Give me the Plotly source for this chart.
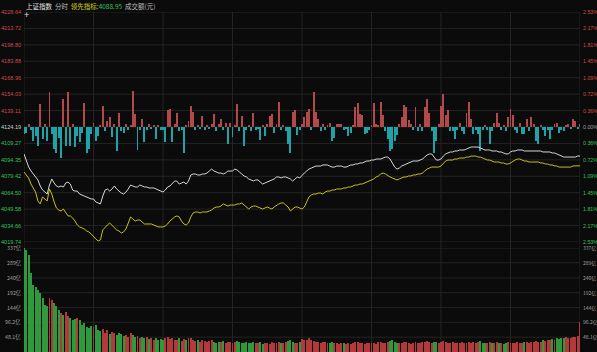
import plotly.graph_objects as go

# ---------------- data ----------------
prev_close = 4124.19
lead_value_text = "4088.95"

price = [
    4099.7, 4094.2, 4087.9, 4084.3, 4081.5, 4078.8, 4076.1, 4070.6, 4067.0, 4065.2,
    4063.3, 4071.5, 4077.0, 4073.3, 4070.6, 4069.7, 4070.6, 4069.7, 4073.3, 4074.2,
    4072.4, 4066.9, 4066.0, 4066.0, 4063.3, 4062.4, 4061.5, 4060.6, 4059.7, 4058.8,
    4058.8, 4056.1, 4055.2, 4054.3, 4061.5, 4066.9, 4067.9, 4066.0, 4067.9, 4070.6,
    4067.9, 4066.0, 4064.2, 4063.3, 4065.1, 4067.9, 4071.5, 4070.6, 4069.7, 4069.7,
    4071.5, 4070.6, 4069.7, 4069.7, 4068.8, 4068.8, 4068.8, 4067.9, 4067.0, 4066.0,
    4065.1, 4067.0, 4069.7, 4070.6, 4073.3, 4075.1, 4075.1, 4072.4, 4073.3, 4074.2,
    4072.4, 4075.1, 4080.6, 4081.5, 4081.5, 4080.6, 4080.6, 4081.5, 4081.5, 4082.4,
    4084.2, 4086.0, 4084.2, 4083.3, 4082.4, 4082.4, 4081.5, 4082.4, 4084.2, 4084.2,
    4084.2, 4086.0, 4085.1, 4083.3, 4081.5, 4079.7, 4078.8, 4077.0, 4076.1, 4075.2,
    4076.1, 4076.1, 4074.2, 4072.4, 4073.3, 4074.2, 4075.1, 4076.1, 4077.0, 4078.8,
    4078.8, 4077.9, 4078.8, 4078.8, 4077.9, 4077.0, 4075.1, 4077.0, 4078.8, 4077.9,
    4080.6, 4082.4, 4084.2, 4086.0, 4086.9, 4087.8, 4088.7, 4088.7, 4088.7, 4089.7,
    4089.7, 4089.7, 4088.7, 4087.8, 4087.8, 4088.7, 4088.7, 4088.7, 4087.8, 4087.8,
    4088.7, 4089.7, 4089.7, 4090.6, 4090.6, 4091.5, 4091.5, 4092.4, 4093.3, 4093.3,
    4094.2, 4094.2, 4095.1, 4095.1, 4095.1, 4096.0, 4096.9, 4096.9, 4095.1, 4091.5,
    4087.8, 4086.0, 4086.9, 4088.7, 4089.7, 4090.6, 4091.5, 4092.4, 4093.3, 4093.3,
    4093.3, 4094.2, 4095.1, 4096.9, 4098.8, 4099.7, 4099.7, 4096.9, 4094.2, 4094.2,
    4095.1, 4097.8, 4099.7, 4100.6, 4101.5, 4101.5, 4102.4, 4102.4, 4103.3, 4103.3,
    4103.3, 4104.2, 4105.1, 4106.0, 4106.0, 4106.0, 4106.0, 4105.1, 4104.2, 4103.3,
    4103.3, 4103.3, 4102.4, 4102.4, 4102.4, 4101.5, 4101.5, 4100.6, 4099.7, 4099.7,
    4101.5, 4102.4, 4102.4, 4103.3, 4103.3, 4103.3, 4102.4, 4102.4, 4102.4, 4102.4,
    4102.4, 4102.4, 4102.4, 4102.4, 4101.5, 4101.5, 4101.5, 4101.5, 4100.6, 4100.6,
    4099.7, 4098.8, 4097.8, 4096.9, 4096.9, 4096.9, 4096.9, 4096.9, 4096.9, 4097.8,
    4097.8,
]

lead = [
    4083.3, 4080.6, 4077.9, 4072.4, 4068.8, 4065.1, 4057.0, 4054.3, 4060.6, 4058.8,
    4057.0, 4067.9, 4063.3, 4056.1, 4050.6, 4048.8, 4047.9, 4049.7, 4047.0, 4043.4,
    4043.4, 4041.6, 4038.8, 4035.2, 4033.4, 4032.5, 4031.6, 4029.8, 4028.9, 4027.0,
    4024.3, 4022.5, 4020.7, 4021.6, 4030.7, 4033.4, 4035.2, 4037.0, 4035.2, 4032.5,
    4030.7, 4029.8, 4027.9, 4028.9, 4031.6, 4037.0, 4042.5, 4040.7, 4038.8, 4039.7,
    4039.7, 4037.9, 4036.1, 4036.1, 4036.1, 4036.1, 4035.2, 4034.3, 4033.4, 4033.4,
    4033.4, 4034.3, 4036.1, 4038.8, 4040.7, 4042.5, 4043.4, 4042.5, 4038.8, 4036.1,
    4035.2, 4037.0, 4042.5, 4046.1, 4047.0, 4047.0, 4046.1, 4047.0, 4047.0, 4047.0,
    4047.9, 4048.8, 4050.6, 4051.5, 4051.5, 4052.4, 4054.3, 4053.3, 4052.4, 4053.3,
    4053.3, 4053.3, 4054.3, 4054.3, 4055.2, 4053.3, 4051.5, 4049.7, 4051.5, 4052.4,
    4052.4, 4051.5, 4050.6, 4049.7, 4050.6, 4051.5, 4050.6, 4049.7, 4051.5, 4053.3,
    4054.3, 4055.2, 4055.2, 4053.3, 4051.5, 4047.9, 4049.7, 4051.5, 4051.5, 4050.6,
    4049.7, 4051.5, 4056.1, 4060.6, 4062.4, 4063.3, 4063.3, 4064.2, 4064.2, 4063.3,
    4065.1, 4066.0, 4066.0, 4067.0, 4067.0, 4067.9, 4067.9, 4067.9, 4068.8, 4068.8,
    4069.7, 4069.7, 4070.6, 4071.5, 4071.5, 4072.4, 4072.4, 4073.3, 4074.2, 4075.1,
    4076.1, 4077.0, 4078.8, 4079.7, 4081.5, 4082.4, 4081.5, 4079.7, 4078.8, 4077.9,
    4077.0, 4076.1, 4077.0, 4077.9, 4078.8, 4078.8, 4079.7, 4079.7, 4080.6, 4080.6,
    4081.5, 4081.5, 4082.4, 4084.2, 4086.0, 4086.9, 4087.8, 4087.8, 4087.8, 4087.8,
    4088.8, 4091.5, 4093.3, 4094.2, 4094.2, 4094.2, 4095.1, 4095.1, 4096.0, 4096.0,
    4096.0, 4096.9, 4096.9, 4097.8, 4097.8, 4097.8, 4096.9, 4096.9, 4096.0, 4095.1,
    4094.2, 4094.2, 4093.3, 4092.4, 4092.4, 4092.4, 4091.5, 4091.5, 4090.6, 4090.6,
    4091.5, 4093.3, 4094.2, 4095.1, 4095.1, 4094.2, 4093.3, 4093.3, 4092.4, 4092.4,
    4092.4, 4092.4, 4092.4, 4091.5, 4091.5, 4090.6, 4090.6, 4089.7, 4089.7, 4088.8,
    4088.8, 4087.8, 4087.8, 4087.8, 4087.8, 4087.8, 4087.8, 4088.8, 4088.8, 4088.95,
    4088.95,
]

strength = [
    -6, -5, 3, -3, -13, -8, -17, 21, -11, 3,
    -13, 32, -6, -20, -24, -10, -28, 25, -17, 32,
    -17, 3, -18, -8, -14, -5, 22, -24, -20, -6,
    4, -13, -8, 2, 19, -4, 5, 9, -9, 3,
    -22, 13, -4, -5, 3, -3, 2, 33, 12, -21,
    -3, 7, -14, -3, 3, -2, 2, -11, 2, -3,
    -3, -14, 15, 16, -14, 3, 13, -4, -3, -24,
    2, 5, 19, 14, -3, 2, -2, 10, -3, 2,
    -2, 3, 12, -4, 3, 7, -3, 4, -15, 4,
    -9, 2, 21, -4, 10, -17, -3, 2, -4, 13,
    -3, -2, -12, 2, -8, 3, 10, 12, -5, 3,
    23, -3, 2, -4, -15, -24, 14, 15, -7, -3,
    3, 9, 14, 16, -3, 32, 14, 7, -4, 3,
    -3, 2, 4, -13, -10, 3, 3, 3, -3, -2,
    -8, -5, 2, 18, 22, 12, 11, -6, -5, -3,
    2, 22, 3, 2, 23, 11, -4, -11, -22, -20,
    -13, -7, 3, 9, 20, 18, 6, 3, -3, 18,
    -4, 3, -4, 18, 25, 13, -4, -24, -13, 3,
    19, 30, 11, 15, -4, -4, -11, -3, 4, -4,
    -6, 13, 23, 7, -6, -3, -6, -22, -3, 2,
    -3, -15, -4, 4, 13, 4, -3, 2, -4, 9,
    16, 11, -3, -5, 4, -6, -6, 7, -4, 9,
    3, -13, -15, 2, -3, -8, -3, -11, -3, 3,
    4, -5, -3, -4, 2, 3, -2, 7, 5, -2,
    3,
]

volume = [
    337, 330, 314, 256, 217, 211, 201, 191, 175, 152,
    150, 175, 168, 159, 150, 136, 128, 120, 130, 118,
    110, 104, 108, 110, 104, 88, 95, 81, 78, 84,
    80, 86, 72, 68, 75, 62, 70, 58, 64, 60,
    55, 62, 58, 52, 56, 50, 60, 54, 48, 52,
    46, 50, 44, 48, 42, 46, 40, 44, 38, 42,
    40, 44, 48, 42, 46, 38, 40, 44, 36, 42,
    38, 46, 44, 40, 36, 38, 34, 40, 36, 32,
    36, 38, 34, 30, 34, 32, 36, 30, 34, 32,
    30, 34, 36, 32, 30, 28, 32, 30, 28, 34,
    30, 28, 32, 26, 30, 28, 26, 32, 30, 28,
    34, 30, 28, 32, 36, 40, 34, 30, 28, 32,
    42, 38, 40, 44, 38, 36, 34, 32, 30, 34,
    32, 30, 28, 32, 30, 28, 26, 30, 28, 26,
    28, 26, 30, 32, 34, 30, 28, 26, 28, 30,
    28, 30, 26, 32, 34, 30, 28, 32, 36, 38,
    34, 30, 28, 30, 34, 32, 28, 26, 30, 32,
    30, 28, 32, 34, 36, 32, 30, 34, 32, 30,
    34, 36, 32, 30, 28, 32, 30, 28, 30, 32,
    30, 28, 32, 30, 34, 28, 32, 36, 30, 28,
    30, 32, 28, 30, 32, 28, 30, 26, 30, 32,
    30, 28, 30, 32, 30, 28, 32, 34, 30, 32,
    34, 36, 32, 34, 38, 36, 40, 38, 42, 40,
    44, 42, 46, 44, 48, 46, 44, 50, 48, 52,
    97,
]

price_ticks = [4228.64, 4213.72, 4198.80, 4183.88, 4168.96, 4154.03, 4139.11, 4124.19,
               4109.27, 4094.35, 4079.42, 4064.50, 4049.58, 4034.66, 4019.74]
price_tick_text = ["4228.64", "4213.72", "4198.80", "4183.88", "4168.96", "4154.03", "4139.11",
                   "4124.19", "4109.27", "4094.35", "4079.42", "4064.50", "4049.58", "4034.66",
                   "4019.74"]
pct_tick_text = ["2.53%", "2.17%", "1.81%", "1.45%", "1.09%", "0.72%", "0.36%", "0.00%",
                 "0.36%", "0.72%", "1.09%", "1.45%", "1.81%", "2.17%", "2.53%"]
vol_ticks = [337, 289, 240, 192, 144, 96.2, 48.1]
vol_tick_text = ["337亿", "289亿", "240亿", "192亿", "144亿", "96.2亿", "48.1亿"]
time_grid = [0, 30, 60, 90, 120, 150, 180, 210, 240]

# ---------------- styling ----------------
BG = "#0b0b0b"
GRID = "#242424"
RED = "#d04a4a"
GREEN = "#33c25a"
GRAY = "#a0a0a0"
UP_BAR = "#b4494b"
DOWN_BAR = "#1ea3a8"
VOL_UP = "#b23a3a"
VOL_DOWN = "#2f9a3c"
NUM_FONT = "Liberation Sans"
CJK_FONT = "Noto Sans CJK SC"

minutes = list(range(len(price)))

fig = go.Figure()

fig.add_trace(go.Bar(
    x=minutes, y=strength, base=prev_close, width=0.42,
    marker=dict(color=[UP_BAR if v > 0 else DOWN_BAR for v in strength], line=dict(width=0)),
    xaxis="x", yaxis="y", hoverinfo="skip",
))
fig.add_trace(go.Scatter(
    x=minutes, y=price, mode="lines", line=dict(color="#d8d8d8", width=1),
    xaxis="x", yaxis="y", hoverinfo="skip",
))
fig.add_trace(go.Scatter(
    x=minutes, y=lead, mode="lines", line=dict(color="#c6c21c", width=1),
    xaxis="x", yaxis="y", hoverinfo="skip",
))

vol_colors = []
for i, p in enumerate(price):
    ref = prev_close if i == 0 else price[i - 1]
    vol_colors.append(VOL_UP if p >= ref else VOL_DOWN)
fig.add_trace(go.Bar(
    x=minutes, y=volume, width=0.42,
    marker=dict(color=vol_colors, line=dict(width=0)),
    xaxis="x", yaxis="y2", hoverinfo="skip",
))

shapes = []
for lvl in price_ticks:
    shapes.append(dict(type="line", xref="paper", yref="y", x0=0, x1=1, y0=lvl, y1=lvl,
                       line=dict(color=GRID, width=1), layer="below"))
for lvl in [0] + vol_ticks:
    shapes.append(dict(type="line", xref="paper", yref="y2", x0=0, x1=1, y0=lvl, y1=lvl,
                       line=dict(color=GRID, width=1), layer="below"))
for t in time_grid:
    shapes.append(dict(type="line", xref="x", yref="paper", x0=t, x1=t, y0=0, y1=1,
                       line=dict(color=GRID, width=1), layer="below"))

annotations = []
n = len(price_ticks)
mid = n // 2
for i, (lvl, txt, ptxt) in enumerate(zip(price_ticks, price_tick_text, pct_tick_text)):
    if i < mid:
        c = RED
    elif i > mid:
        c = GREEN
    else:
        c = "#cfcfcf"
    annotations.append(dict(xref="paper", yref="y", x=0, y=lvl, text=txt, showarrow=False,
                            xanchor="right", yanchor="middle", xshift=-1,
                            font=dict(family=NUM_FONT, size=5.6, color=c)))
    annotations.append(dict(xref="paper", yref="y", x=1, y=lvl, text=ptxt, showarrow=False,
                            xanchor="left", yanchor="middle", xshift=1,
                            font=dict(family=NUM_FONT, size=5.3,
                                      color=c if i != mid else GRAY)))
for lvl, txt in zip(vol_ticks, vol_tick_text):
    annotations.append(dict(xref="paper", yref="y2", x=0, y=lvl, text=txt, showarrow=False,
                            xanchor="right", yanchor="middle", xshift=-1,
                            font=dict(family=CJK_FONT, size=5.3, color=GRAY)))
    annotations.append(dict(xref="paper", yref="y2", x=1, y=lvl, text=txt, showarrow=False,
                            xanchor="left", yanchor="middle", xshift=1,
                            font=dict(family=CJK_FONT, size=5.0, color=GRAY)))

header = ("<span style='color:#e6e6e6'>上证指数</span>  "
          "<span style='color:#bdbdbd'>分时</span>  "
          "<span style='color:#d8d21e'>领先指标:</span>"
          f"<span style='color:{GREEN}'>{lead_value_text}</span>  "
          "<span style='color:#bdbdbd'>成交额(元)</span>")
annotations.append(dict(xref="paper", yref="paper", x=0, y=1.0, yshift=6, text=header,
                        showarrow=False, xanchor="left", yanchor="middle",
                        font=dict(family=CJK_FONT, size=6.5, color="#cccccc")))
annotations.append(dict(xref="paper", yref="paper", x=0, y=1.0, xshift=2, yshift=-3, text="+",
                        showarrow=False, xanchor="center", yanchor="middle",
                        font=dict(family=NUM_FONT, size=9, color="#e0e0e0")))

fig.update_layout(
    width=597, height=352,
    margin=dict(l=24, r=17, t=12, b=0),
    paper_bgcolor=BG, plot_bgcolor=BG,
    showlegend=False, bargap=0,
    xaxis=dict(range=[0, 240], visible=False, fixedrange=True, anchor="y2"),
    yaxis=dict(domain=[110 / 340, 1], range=[4019.74, 4228.64], visible=False, fixedrange=True),
    yaxis2=dict(domain=[0, 104 / 340], range=[0, 337], visible=False, fixedrange=True),
    shapes=shapes, annotations=annotations,
)

fig.write_html("out.html")
